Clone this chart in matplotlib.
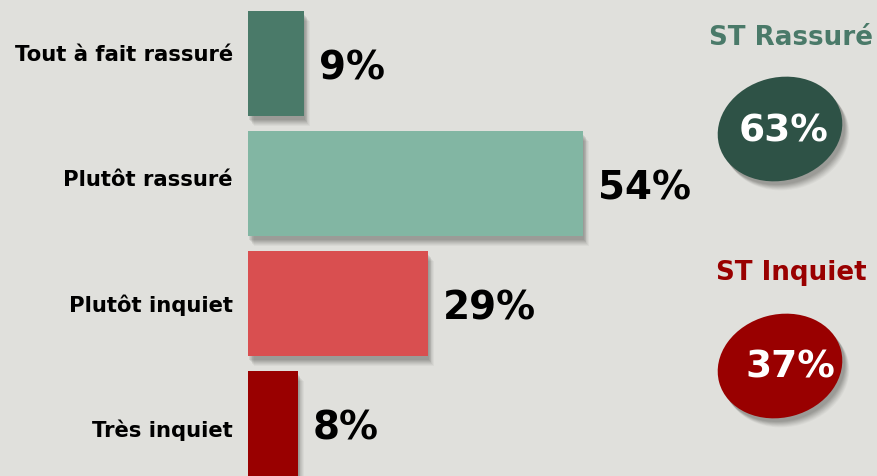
import matplotlib
matplotlib.use("Agg")
import matplotlib.pyplot as plt
from matplotlib.patches import Ellipse

categories = ["Tout à fait rassuré", "Plutôt rassuré", "Plutôt inquiet", "Très inquiet"]
values = [9, 54, 29, 8]
value_labels = ["9%", "54%", "29%", "8%"]
bar_colors = ["#4a7a69", "#82b6a3", "#d94f50", "#990000"]

summary_titles = ["ST Rassuré", "ST Inquiet"]
summary_values = [63, 37]
summary_title_colors = ["#4a7a69", "#990000"]
summary_fill = ["#2e5246", "#990000"]

BG = "#e0e0dc"
W, H = 878, 476
fig = plt.figure(figsize=(W / 100, H / 100), dpi=100)
fig.patch.set_facecolor(BG)

# Bars axes: left edge at pixel 248, 6.2 px per percent
ax_left = 248
ax_w = 460
ax = fig.add_axes([ax_left / W, 0, ax_w / W, 1])
ax.set_facecolor("none")
px_per_pct = 6.2
ax.set_xlim(0, ax_w / px_per_pct)
spacing = 120.0
top_center = 63.5
ax.set_ylim((H - top_center) / spacing, -top_center / spacing)
ax.axis("off")

ypos = list(range(len(categories)))
bh = 105 / spacing
shadow_steps = [(10, 0.05), (9, 0.06), (8, 0.07), (7, 0.08), (6, 0.09), (5, 0.10), (4, 0.10)]
# soft shadows
for k, a in shadow_steps:
    ax.barh([y + k / spacing for y in ypos], values, height=bh, left=k / px_per_pct * 0.8 - 2 / px_per_pct,
            color="#4a4a45", alpha=a, zorder=1, linewidth=0)
ax.barh(ypos, values, height=bh, color=bar_colors, zorder=3, linewidth=0)

for y, v, lab in zip(ypos, values, value_labels):
    ax.text(v + 15 / px_per_pct, y + 5 / spacing, lab, fontsize=28, fontweight="bold",
            color="black", va="center", ha="left", zorder=4)

# category labels are spaced slightly wider (125 px) than the bars
label_spacing = 125.0
label_first = 55.0
for i, c in enumerate(categories):
    ly = (label_first + i * label_spacing - top_center) / spacing
    ax.text(-15 / px_per_pct, ly, c, fontsize=15.2, fontweight="bold", color="black",
            va="center", ha="right", zorder=4)

# Overlay axes in pixel units for the summary
ov = fig.add_axes([0, 0, 1, 1])
ov.set_xlim(0, W)
ov.set_ylim(H, 0)
ov.axis("off")
ov.set_facecolor("none")

title_pos = [(791, 38), (791, 273)]
ell_pos = [(780, 129), (780, 366)]
val_pos = [(784, 131), (790, 367)]
for t, v, tc, fc, tp, ep, vp in zip(summary_titles, summary_values, summary_title_colors,
                                    summary_fill, title_pos, ell_pos, val_pos):
    ov.text(tp[0], tp[1], t, fontsize=18.8, fontweight="bold", color=tc,
            ha="center", va="center")
    for k, a in shadow_steps:
        ov.add_patch(Ellipse((ep[0] + k * 0.7, ep[1] + k * 0.9), 126, 103, angle=-15,
                             facecolor="#4a4a45", alpha=a, edgecolor="none"))
    ov.add_patch(Ellipse(ep, 126, 103, angle=-15, facecolor=fc, edgecolor="none"))
    ov.text(vp[0], vp[1], f"{v}%", fontsize=27, fontweight="bold", color="white",
            ha="center", va="center")

fig.savefig("out.png", dpi=100, facecolor=BG)
